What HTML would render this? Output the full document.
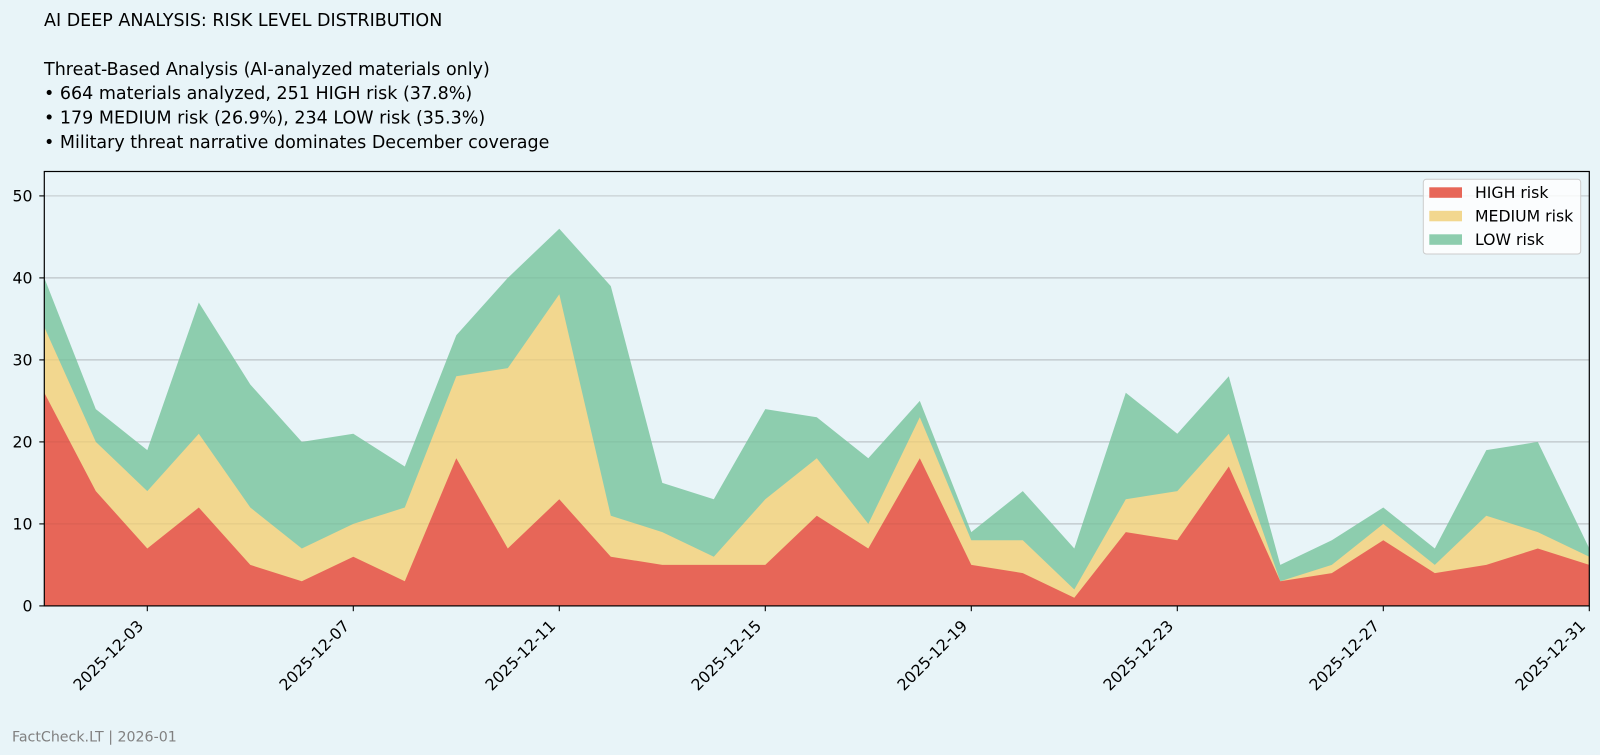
<!DOCTYPE html>
<html>
<head>
<meta charset="utf-8">
<style>
  html, body { margin: 0; padding: 0; background: #e8f4f8; }
  svg { display: block; }
  text { font-family: "DejaVu Sans", "Liberation Sans", sans-serif; fill: #000; }
</style>
</head>
<body>
<svg width="1600" height="755" viewBox="0 0 1600 755" xmlns="http://www.w3.org/2000/svg">
  <rect x="0" y="0" width="1600" height="755" fill="#e8f4f8"/>

  <!-- Title block -->
  <text x="44" y="25.8" font-size="17.5">AI DEEP ANALYSIS: RISK LEVEL DISTRIBUTION</text>
  <text x="44" y="74.8" font-size="17.5">Threat-Based Analysis (AI-analyzed materials only)</text>
  <text x="44" y="99.2" font-size="17.5">• 664 materials analyzed, 251 HIGH risk (37.8%)</text>
  <text x="44" y="123.6" font-size="17.5">• 179 MEDIUM risk (26.9%), 234 LOW risk (35.3%)</text>
  <text x="44" y="148" font-size="17.5">• Military threat narrative dominates December coverage</text>

  <!-- Gridlines -->
  <g stroke="#c8d0d3" stroke-width="1.2">
    <line x1="44.3" x2="1589.3" y1="523.9" y2="523.9"/>
    <line x1="44.3" x2="1589.3" y1="441.9" y2="441.9"/>
    <line x1="44.3" x2="1589.3" y1="359.9" y2="359.9"/>
    <line x1="44.3" x2="1589.3" y1="277.9" y2="277.9"/>
    <line x1="44.3" x2="1589.3" y1="195.9" y2="195.9"/>
  </g>

  <!-- Stacked areas -->
  <g transform="translate(44.3,605.9) scale(51.5,-8.2)">
    <polygon fill="#8dcdae" points="0,0 0,40 1,24 2,19 3,37 4,27 5,20 6,21 7,17 8,33 9,40 10,46 11,39 12,15 13,13 14,24 15,23 16,18 17,25 18,9 19,14 20,7 21,26 22,21 23,28 24,5 25,8 26,12 27,7 28,19 29,20 30,7 30,0"/>
    <polygon fill="#f2d78f" points="0,0 0,34 1,20 2,14 3,21 4,12 5,7 6,10 7,12 8,28 9,29 10,38 11,11 12,9 13,6 14,13 15,18 16,10 17,23 18,8 19,8 20,2 21,13 22,14 23,21 24,3 25,5 26,10 27,5 28,11 29,9 30,6 30,0"/>
    <polygon fill="#e76658" points="0,0 0,26 1,14 2,7 3,12 4,5 5,3 6,6 7,3 8,18 9,7 10,13 11,6 12,5 13,5 14,5 15,11 16,7 17,18 18,5 19,4 20,1 21,9 22,8 23,17 24,3 25,4 26,8 27,4 28,5 29,7 30,5 30,0"/>
  </g>

  <!-- faint gridlines through fills -->
  <g stroke="#000" stroke-opacity="0.05" stroke-width="1.2">
    <line x1="44.3" x2="1589.3" y1="523.9" y2="523.9"/>
    <line x1="44.3" x2="1589.3" y1="441.9" y2="441.9"/>
    <line x1="44.3" x2="1589.3" y1="359.9" y2="359.9"/>
    <line x1="44.3" x2="1589.3" y1="277.9" y2="277.9"/>
  </g>

  <!-- Axes frame -->
  <rect x="44.3" y="171.5" width="1545" height="434.4" fill="none" stroke="#000" stroke-width="1.2"/>

  <!-- Y ticks -->
  <g stroke="#000" stroke-width="1.1">
    <line x1="39.3" x2="44.3" y1="605.9" y2="605.9"/>
    <line x1="39.3" x2="44.3" y1="523.9" y2="523.9"/>
    <line x1="39.3" x2="44.3" y1="441.9" y2="441.9"/>
    <line x1="39.3" x2="44.3" y1="359.9" y2="359.9"/>
    <line x1="39.3" x2="44.3" y1="277.9" y2="277.9"/>
    <line x1="39.3" x2="44.3" y1="195.9" y2="195.9"/>
  </g>
  <g font-size="15.7" text-anchor="end">
    <text x="32.5" y="611.6">0</text>
    <text x="32.5" y="529.6">10</text>
    <text x="32.5" y="447.6">20</text>
    <text x="32.5" y="365.6">30</text>
    <text x="32.5" y="283.6">40</text>
    <text x="32.5" y="201.6">50</text>
  </g>

  <!-- X ticks -->
  <g stroke="#000" stroke-width="1.1">
    <line x1="147.3" x2="147.3" y1="605.9" y2="611.2"/>
    <line x1="353.3" x2="353.3" y1="605.9" y2="611.2"/>
    <line x1="559.3" x2="559.3" y1="605.9" y2="611.2"/>
    <line x1="765.3" x2="765.3" y1="605.9" y2="611.2"/>
    <line x1="971.3" x2="971.3" y1="605.9" y2="611.2"/>
    <line x1="1177.3" x2="1177.3" y1="605.9" y2="611.2"/>
    <line x1="1383.3" x2="1383.3" y1="605.9" y2="611.2"/>
    <line x1="1589.3" x2="1589.3" y1="605.9" y2="611.2"/>
  </g>
  <g font-size="15.7" text-anchor="end">
    <text transform="translate(144.3,627) rotate(-45)">2025-12-03</text>
    <text transform="translate(350.3,627) rotate(-45)">2025-12-07</text>
    <text transform="translate(556.3,627) rotate(-45)">2025-12-11</text>
    <text transform="translate(762.3,627) rotate(-45)">2025-12-15</text>
    <text transform="translate(968.3,627) rotate(-45)">2025-12-19</text>
    <text transform="translate(1174.3,627) rotate(-45)">2025-12-23</text>
    <text transform="translate(1380.3,627) rotate(-45)">2025-12-27</text>
    <text transform="translate(1586.3,627) rotate(-45)">2025-12-31</text>
  </g>

  <!-- Legend -->
  <rect x="1423.3" y="179.3" width="157.4" height="74.7" rx="3" ry="3" fill="#ffffff" fill-opacity="0.8" stroke="#cccccc" stroke-width="1"/>
  <rect x="1429.3" y="187.3" width="32.7" height="10.5" fill="#e76658"/>
  <rect x="1429.3" y="210.8" width="32.7" height="10.5" fill="#f2d78f"/>
  <rect x="1429.3" y="234.3" width="32.7" height="10.5" fill="#8dcdae"/>
  <g font-size="15.7">
    <text x="1475" y="198.2">HIGH risk</text>
    <text x="1475" y="221.7">MEDIUM risk</text>
    <text x="1475" y="245.2">LOW risk</text>
  </g>

  <!-- Footer -->
  <text x="12" y="741.5" font-size="14.2" style="fill:#808080">FactCheck.LT | 2026-01</text>
</svg>
</body>
</html>
